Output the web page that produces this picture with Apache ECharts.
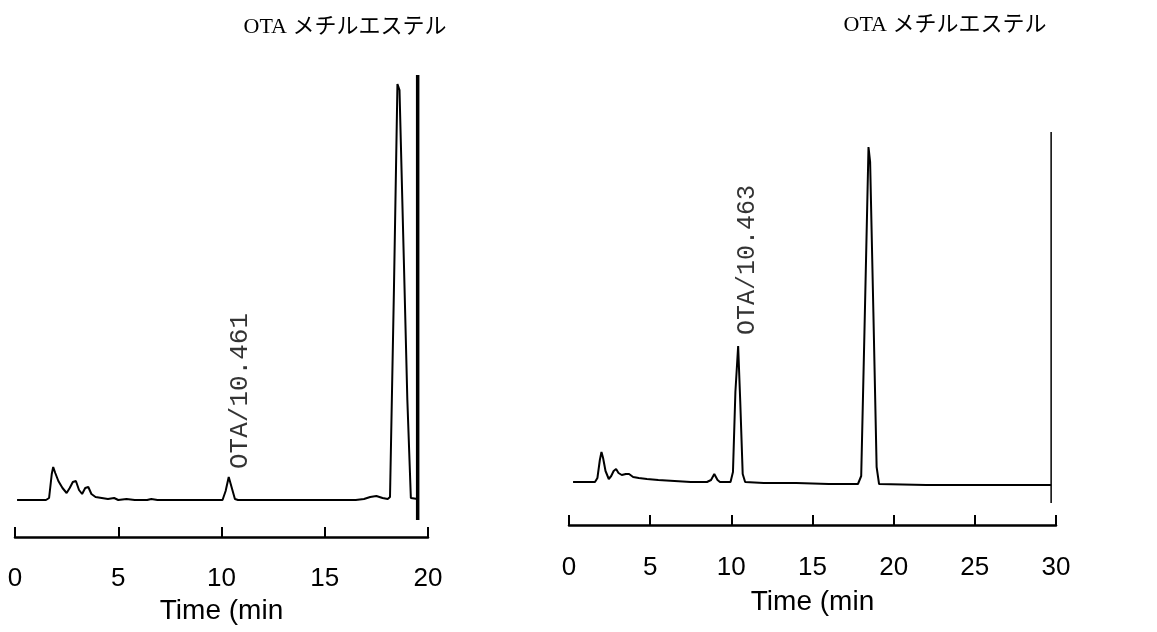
<!DOCTYPE html>
<html>
<head>
<meta charset="utf-8">
<script src="https://cdn.jsdelivr.net/npm/echarts@6/dist/echarts.min.js"></script>
<style>html,body{margin:0;padding:0;background:#fff}#c{width:1157px;height:632px}</style>
</head>
<body>
<div id="c"></div>
<script>
// ---- data ----
const titleText = 'OTA メチルエステル';
const axisName = 'Time (min';
const leftTicks = [0, 5, 10, 15, 20];
const rightTicks = [0, 5, 10, 15, 20, 25, 30];
// left chromatogram: [time (min), response]
const leftTrace = [
  [0.1,0],[1.0,0],[1.5,0],[1.65,2],[1.78,26],[1.85,33],[1.95,27],[2.1,19],[2.3,12],[2.5,7],[2.65,12],[2.8,18],[2.95,19],[3.1,10],[3.25,6],[3.4,12],[3.55,13],[3.7,6],[3.9,3],[4.2,2],[4.5,1],[4.8,2],[5.0,0],[5.4,1],[5.8,0],[6.4,0],[6.6,1],[6.9,0],[8.0,0],[10.05,0],[10.2,9],[10.35,23],[10.5,12],[10.65,1],[10.8,0],
  [13.0,0],[16.5,0],[16.9,1],[17.2,3],[17.5,4],[17.8,2],[18.05,1],[18.16,3],[18.35,210],[18.52,416],[18.62,410],[18.83,240],[19.0,100],[19.17,2],[19.5,1]
];
const leftMarker = [[19.5,-20],[19.5,425]];
// right chromatogram: [time (min), response]
const rightTrace = [
  [0.25,0],[1.0,0],[1.6,0],[1.75,4],[1.9,22],[2.0,30],[2.1,24],[2.25,11],[2.45,3],[2.6,6],[2.75,11],[2.9,13],[3.05,9],[3.25,7],[3.5,8],[3.7,8],[3.95,5],[4.3,4],[4.8,3],[5.5,2],[6.5,1],[7.5,0],[8.5,0],[8.75,2],[8.95,8],[9.15,2],[9.3,0],[9.95,0],[10.1,10],[10.25,90],[10.42,136],[10.55,80],[10.7,8],[10.85,0],
  [12.0,-1],[14.0,-1],[16.0,-2],[17.8,-2],[18.0,6],[18.2,150],[18.45,335],[18.55,320],[18.75,170],[18.95,15],[19.1,-2],[22.0,-3],[26.0,-3],[29.7,-3]
];
const rightMarker = [[29.7,-21],[29.7,350]];
const leftLabel = {text:'OTA/10.461', pos:[10.9,109]};
const rightLabel = {text:'OTA/10.463', pos:[10.97,222]};

const chart = echarts.init(document.getElementById('c'), null, {renderer:'canvas'});
const black = '#000';
function xAx(idx, max) {
  return {
    type:'value', gridIndex:idx, min:0, max:max, interval:5,
    name: axisName, nameLocation:'middle', nameGap: idx===0 ? 55 : 63,
    nameTextStyle:{color:black, fontSize:28, fontFamily:'Liberation Sans'},
    axisLine:{show:true, onZero:false, lineStyle:{color:black, width:2.5}},
    axisTick:{show:true, inside:true, length:10, lineStyle:{color:black, width:2}},
    axisLabel:{color:black, fontSize:26, fontFamily:'Liberation Sans', margin: idx===0 ? 29 : 30},
    splitLine:{show:false}
  };
}
function yAx(idx, min, max) {
  return {type:'value', gridIndex:idx, min:min, max:max, show:false, splitLine:{show:false}};
}
const option = {
  backgroundColor:'#fff',
  animation:false,
  title:[
    {text:titleText, left:340, top:11, textAlign:'center', textStyle:{color:black, fontWeight:'normal', fontSize:22, fontFamily:'Liberation Serif, Noto Sans CJK JP'}},
    {text:titleText, left:940, top:9, textAlign:'center', textStyle:{color:black, fontWeight:'normal', fontSize:22, fontFamily:'Liberation Serif, Noto Sans CJK JP'}}
  ],
  grid:[
    {left:15, width:413, top:67, height:470},
    {left:569, width:487, top:55, height:470}
  ],
  xAxis:[xAx(0,20), xAx(1,30)],
  yAxis:[yAx(0,-37,433), yAx(1,-43,427)],
  series:[
    {type:'line', xAxisIndex:0, yAxisIndex:0, data:leftTrace, showSymbol:false, lineStyle:{color:black, width:2}},
    {type:'line', xAxisIndex:0, yAxisIndex:0, data:leftMarker, showSymbol:false, lineStyle:{color:black, width:3.5}},
    {type:'line', xAxisIndex:1, yAxisIndex:1, data:rightTrace, showSymbol:false, lineStyle:{color:black, width:2}},
    {type:'line', xAxisIndex:1, yAxisIndex:1, data:rightMarker, showSymbol:false, lineStyle:{color:black, width:1.5}},
    {type:'scatter', xAxisIndex:0, yAxisIndex:0, data:[leftLabel.pos], symbolSize:0,
      label:{show:true, position:'inside', rotate:90, formatter:leftLabel.text, color:black, fontSize:26, fontFamily:'Liberation Mono'}},
    {type:'scatter', xAxisIndex:1, yAxisIndex:1, data:[rightLabel.pos], symbolSize:0,
      label:{show:true, position:'inside', rotate:90, formatter:rightLabel.text, color:black, fontSize:25, fontFamily:'Liberation Mono'}}
  ]
};
chart.setOption(option);
</script>
</body>
</html>
